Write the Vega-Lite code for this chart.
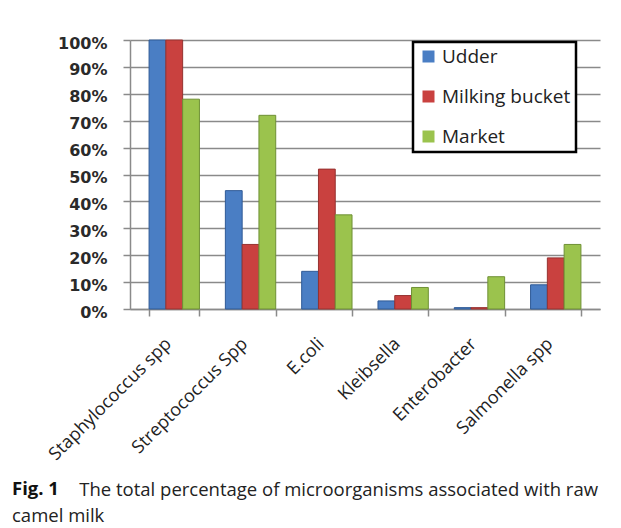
{
  "$schema": "https://vega.github.io/schema/vega-lite/v6.json",
  "width": 470,
  "height": 269,
  "autosize": "none",
  "padding": {"left": 130, "top": 40, "right": 21, "bottom": 219},
  "background": "white",
  "data": {
    "values": [
      {"organism": "Staphylococcus spp", "source": "Udder", "percent": 100},
      {"organism": "Staphylococcus spp", "source": "Milking bucket", "percent": 100},
      {"organism": "Staphylococcus spp", "source": "Market", "percent": 78},
      {"organism": "Streptococcus Spp", "source": "Udder", "percent": 44},
      {"organism": "Streptococcus Spp", "source": "Milking bucket", "percent": 24},
      {"organism": "Streptococcus Spp", "source": "Market", "percent": 72},
      {"organism": "E.coli", "source": "Udder", "percent": 14},
      {"organism": "E.coli", "source": "Milking bucket", "percent": 52},
      {"organism": "E.coli", "source": "Market", "percent": 35},
      {"organism": "Kleibsella", "source": "Udder", "percent": 3},
      {"organism": "Kleibsella", "source": "Milking bucket", "percent": 5},
      {"organism": "Kleibsella", "source": "Market", "percent": 8},
      {"organism": "Enterobacter", "source": "Udder", "percent": 0.5},
      {"organism": "Enterobacter", "source": "Milking bucket", "percent": 0.5},
      {"organism": "Enterobacter", "source": "Market", "percent": 12},
      {"organism": "Salmonella spp", "source": "Udder", "percent": 9},
      {"organism": "Salmonella spp", "source": "Milking bucket", "percent": 19},
      {"organism": "Salmonella spp", "source": "Market", "percent": 24}
    ]
  },
  "mark": {"type": "bar", "strokeWidth": 1},
  "encoding": {
    "x": {
      "field": "organism",
      "type": "nominal",
      "sort": ["Staphylococcus spp", "Streptococcus Spp", "E.coli", "Kleibsella", "Enterobacter", "Salmonella spp"],
      "scale": {"paddingInner": 0.34, "paddingOuter": 0.25},
      "axis": {
        "title": null,
        "tickBand": "extent",
        "labelAngle": -45,
        "labelAlign": "right",
        "labelBaseline": "middle",
        "labelPadding": 25,
        "labelOffset": -6,
        "labelFont": "Open Sans",
        "labelFontSize": 18,
        "labelColor": "#222222",
        "labelLimit": 300,
        "domainColor": "#8a8a8a",
        "domainWidth": 1.5,
        "tickColor": "#8a8a8a",
        "tickWidth": 1.5,
        "tickSize": 7
      }
    },
    "xOffset": {"field": "source", "sort": ["Udder", "Milking bucket", "Market"]},
    "y": {
      "field": "percent",
      "type": "quantitative",
      "scale": {"domain": [0, 100]},
      "axis": {
        "title": null,
        "values": [0, 10, 20, 30, 40, 50, 60, 70, 80, 90, 100],
        "labelExpr": "datum.value + '%'",
        "labelFont": "DejaVu Sans",
        "labelFontSize": 16,
        "labelFontWeight": "bold",
        "labelColor": "#2a2a2a",
        "labelPadding": 16,
        "labelOffset": 3,
        "tickSize": 7,
        "tickColor": "#8a8a8a",
        "tickWidth": 1.5,
        "domainColor": "#8a8a8a",
        "domainWidth": 1.5,
        "gridColor": "#8a8a8a",
        "gridWidth": 1.5
      }
    },
    "color": {
      "field": "source",
      "type": "nominal",
      "sort": ["Udder", "Milking bucket", "Market"],
      "scale": {"domain": ["Udder", "Milking bucket", "Market"], "range": ["#4a7ec4", "#c9413f", "#9bc34d"]},
      "legend": {
        "title": null,
        "orient": "none",
        "legendX": 283,
        "legendY": 2,
        "strokeColor": "#000000",
        "fillColor": "#ffffff",
        "padding": 5,
        "rowPadding": 20,
        "labelFont": "Open Sans",
        "labelFontSize": 19,
        "labelColor": "#222222",
        "symbolType": "square",
        "symbolSize": 144,
        "symbolStrokeWidth": 0,
        "symbolOffset": 1,
        "labelOffset": 4,
        "encode": {"legend": {"update": {"strokeWidth": {"value": 2.5}}}}
      }
    },
    "stroke": {
      "field": "source",
      "type": "nominal",
      "scale": {"domain": ["Udder", "Milking bucket", "Market"], "range": ["#2f5a96", "#963230", "#6f9035"]},
      "legend": null
    }
  },
  "title": {
    "text": "Fig. 1",
    "subtitle": ["\u200b\u00a0\u00a0\u00a0\u00a0\u00a0\u00a0\u00a0\u00a0\u00a0\u00a0\u00a0\u00a0\u00a0\u00a0The total percentage of microorganisms associated with raw", "camel milk"],
    "orient": "bottom",
    "anchor": "start",
    "frame": "group",
    "dx": -118,
    "offset": 16,
    "font": "Open Sans",
    "fontSize": 18.5,
    "fontWeight": "bold",
    "color": "#111111",
    "subtitleFont": "Open Sans",
    "subtitleFontSize": 18.5,
    "subtitleColor": "#222222",
    "subtitleLineHeight": 26,
    "subtitlePadding": -17.5
  },
  "config": {"view": {"stroke": null}}
}
